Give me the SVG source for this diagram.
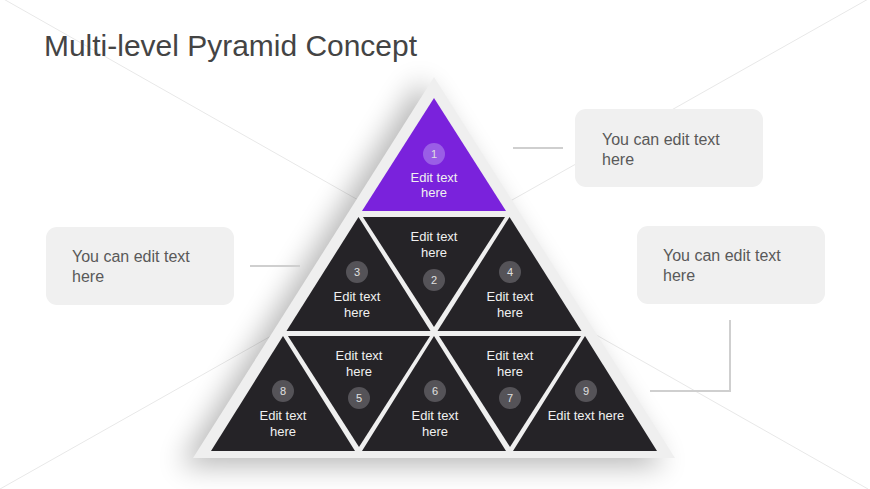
<svg xmlns="http://www.w3.org/2000/svg" width="870" height="489" viewBox="0 0 870 489">
<defs>
<filter id="shadow" x="-30%" y="-30%" width="160%" height="160%">
<feGaussianBlur stdDeviation="14"/>
</filter>
<style>
.title{font-family:"Liberation Sans",Arial,sans-serif;font-size:29px;fill:#444444}
.dark{fill:#252327}
.purple{fill:#7a22dc}
.num{fill:#555358}
.numP{fill:#9a5ee6}
.ntxt{font-family:"Liberation Sans",Arial,sans-serif;font-size:11px;fill:#e0e0e0;text-anchor:middle}
.lbl{font-family:"Liberation Sans",Arial,sans-serif;font-size:13px;fill:#f0f0f0;text-anchor:middle}
.box{fill:#f0f0f0}
.btxt{font-family:"Liberation Sans",Arial,sans-serif;font-size:16px;fill:#595959}
.conn{stroke:#cfcfcf;stroke-width:2;fill:none}
.bg{stroke:#e8e8e8;stroke-width:1;fill:none}
</style>
</defs>
<rect width="870" height="489" fill="#ffffff"/>
<g id="background-lines">
<line class="bg" x1="0" y1="-3" x2="868" y2="489"/>
<line class="bg" x1="0" y1="489" x2="870" y2="-2"/>
</g>
<text class="title" x="44" y="56" textLength="373" lengthAdjust="spacingAndGlyphs">Multi-level Pyramid Concept</text>
<g id="pyramid-base">
<polygon points="420,80 180,466 665,466" fill="#000" opacity="0.28" filter="url(#shadow)"/>
<polygon points="434,77 675,458 193,458" fill="#efefef"/>
</g>
<g id="tri1">
<polygon class="purple" points="434,98 506,211 362,211"/>
<circle class="numP" cx="434" cy="154" r="11"/>
<text class="ntxt" x="434" y="158">1</text>
<text class="lbl" x="434" y="182">Edit text</text>
<text class="lbl" x="434" y="197">here</text>
</g>
<g id="tri2">
<polygon class="dark" points="363,217 505,217 434,327"/>
<text class="lbl" x="434" y="241">Edit text</text>
<text class="lbl" x="434" y="257">here</text>
<circle class="num" cx="434" cy="280" r="11"/>
<text class="ntxt" x="434" y="284">2</text>
</g>
<g id="tri3">
<polygon class="dark" points="358.5,217 430.5,331 286.5,331"/>
<circle class="num" cx="357" cy="272" r="11"/>
<text class="ntxt" x="357" y="276">3</text>
<text class="lbl" x="357" y="301">Edit text</text>
<text class="lbl" x="357" y="317">here</text>
</g>
<g id="tri4">
<polygon class="dark" points="509.5,217 581.5,331 437.5,331"/>
<circle class="num" cx="510" cy="272" r="11"/>
<text class="ntxt" x="510" y="276">4</text>
<text class="lbl" x="510" y="301">Edit text</text>
<text class="lbl" x="510" y="317">here</text>
</g>
<g id="tri5">
<polygon class="dark" points="288,336 430,336 359,447"/>
<text class="lbl" x="359" y="360">Edit text</text>
<text class="lbl" x="359" y="376">here</text>
<circle class="num" cx="359" cy="398" r="11"/>
<text class="ntxt" x="359" y="402">5</text>
</g>
<g id="tri6">
<polygon class="dark" points="434,336 506,451 362,451"/>
<circle class="num" cx="435" cy="391" r="11"/>
<text class="ntxt" x="435" y="395">6</text>
<text class="lbl" x="435" y="420">Edit text</text>
<text class="lbl" x="435" y="436">here</text>
</g>
<g id="tri7">
<polygon class="dark" points="439,336 581,336 510,447"/>
<text class="lbl" x="510" y="360">Edit text</text>
<text class="lbl" x="510" y="376">here</text>
<circle class="num" cx="510" cy="398" r="11"/>
<text class="ntxt" x="510" y="402">7</text>
</g>
<g id="tri8">
<polygon class="dark" points="283,336 355,451 211,451"/>
<circle class="num" cx="283" cy="391" r="11"/>
<text class="ntxt" x="283" y="395">8</text>
<text class="lbl" x="283" y="420">Edit text</text>
<text class="lbl" x="283" y="436">here</text>
</g>
<g id="tri9">
<polygon class="dark" points="585,336 657,451 513,451"/>
<circle class="num" cx="586" cy="391" r="11"/>
<text class="ntxt" x="586" y="395">9</text>
<text class="lbl" x="586" y="420">Edit text here</text>
</g>
<g id="connectors">
<line class="conn" x1="513" y1="148" x2="563" y2="148"/>
<line class="conn" x1="250" y1="266" x2="300" y2="266"/>
<polyline class="conn" points="730,320 730,391 650,391"/>
</g>
<g id="callout-top">
<rect class="box" x="575" y="109" width="188" height="78" rx="11"/>
<text class="btxt" x="602" y="145">You can edit text</text>
<text class="btxt" x="602" y="165">here</text>
</g>
<g id="callout-left">
<rect class="box" x="46" y="227" width="188" height="78" rx="11"/>
<text class="btxt" x="72" y="262">You can edit text</text>
<text class="btxt" x="72" y="282">here</text>
</g>
<g id="callout-right">
<rect class="box" x="637" y="226" width="188" height="78" rx="11"/>
<text class="btxt" x="663" y="261">You can edit text</text>
<text class="btxt" x="663" y="281">here</text>
</g>
</svg>
